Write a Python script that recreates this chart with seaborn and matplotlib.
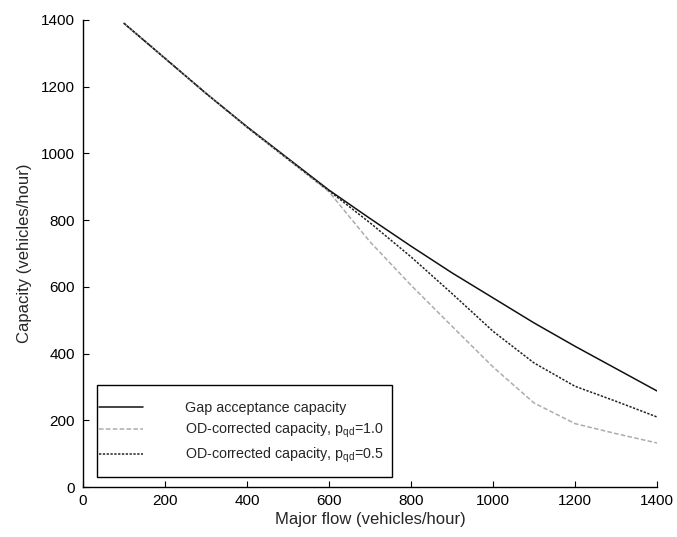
import numpy as np
import pandas as pd
import matplotlib
matplotlib.use("Agg")
import matplotlib.pyplot as plt
from matplotlib.patches import Rectangle
import seaborn as sns

major_flow = [100, 200, 300, 400, 500, 600, 700, 800, 900, 1000, 1100, 1200, 1300, 1400]
gap_capacity = [1390, 1285, 1180, 1080, 985, 890, 805, 722, 642, 567, 492, 422, 355, 288]
od_p10 = [1390, 1285, 1180, 1078, 982, 885, 735, 605, 482, 360, 252, 190, 160, 132]
od_p05 = [1390, 1285, 1180, 1079, 983, 888, 792, 690, 580, 467, 372, 302, 257, 210]

labels = ["Gap acceptance capacity",
          r"OD-corrected capacity, p$_{\rm qd}$=1.0",
          r"OD-corrected capacity, p$_{\rm qd}$=0.5"]

df = pd.concat([
    pd.DataFrame({"flow": major_flow, "cap": gap_capacity, "series": labels[0]}),
    pd.DataFrame({"flow": major_flow, "cap": od_p10, "series": labels[1]}),
    pd.DataFrame({"flow": major_flow, "cap": od_p05, "series": labels[2]}),
])

sns.set_style("ticks")
plt.rcParams["font.family"] = ["Liberation Sans", "DejaVu Sans"]
plt.rcParams["mathtext.fontset"] = "custom"
plt.rcParams["mathtext.rm"] = "Liberation Sans"

fig = plt.figure(figsize=(6.77, 5.37), dpi=100)
ax = fig.add_axes([0.1226, 0.0931, 0.8478, 0.8697])

palette = {labels[0]: "#111111", labels[1]: "#acacac", labels[2]: "#222222"}
dashes = {labels[0]: "", labels[1]: (3, 1.5), labels[2]: (1.5, 1)}
sns.lineplot(data=df, x="flow", y="cap", hue="series", style="series",
             palette=palette, dashes=dashes, linewidth=1.1, ax=ax)

ax.set_xlim(0, 1400)
ax.set_ylim(0, 1400)
ax.set_xticks(range(0, 1401, 200))
ax.set_yticks(range(0, 1401, 200))
ax.tick_params(direction="in", length=4, width=0.8, labelsize=11, colors="black")
ax.tick_params(axis="x", pad=5)
ax.tick_params(axis="y", pad=6)
for s in ["top", "right"]:
    ax.spines[s].set_visible(False)
for s in ["left", "bottom"]:
    ax.spines[s].set_color("black")
    ax.spines[s].set_linewidth(1.0)
ax.set_xlabel("Major flow (vehicles/hour)", fontsize=12, labelpad=3)
ax.set_ylabel("Capacity (vehicles/hour)", fontsize=12, labelpad=6)

leg = ax.legend(loc="upper left", bbox_to_anchor=(0.028, 0.184), fontsize=10.3,
                frameon=False, handlelength=3.1, handletextpad=2.9,
                labelspacing=0.4, borderpad=0.0, borderaxespad=0.0, title=None)
ax.add_patch(Rectangle((0.0244, 0.0214), 0.5139, 0.1970, transform=ax.transAxes,
                       fill=False, edgecolor="black", linewidth=1.0, zorder=5))

fig.savefig("out.png", dpi=100)
